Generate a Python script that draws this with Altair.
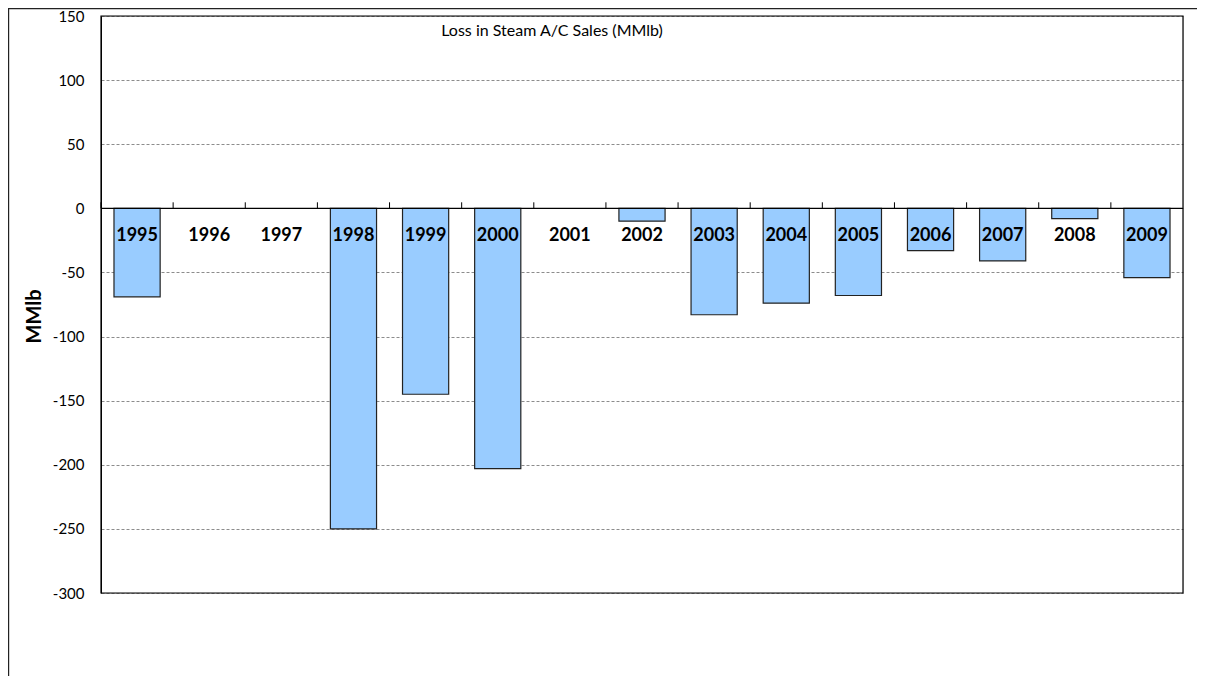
import altair as alt
import pandas as pd

years = ["1995", "1996", "1997", "1998", "1999", "2000", "2001", "2002",
         "2003", "2004", "2005", "2006", "2007", "2008", "2009"]
losses = [-69, None, None, -250, -145, -203, None, -10, -83, -74, -68, -33, -41, -8, -54]
y_ticks = [150, 100, 50, 0, -50, -100, -150, -200, -250, -300]
chart_title = "Loss in Steam A/C Sales (MMlb)"
y_title = "MMlb"

W, H = 1082, 577
PL, PT, PR, PB = 93, 8, 14, 83
FONT = "Lato"

df = pd.DataFrame({"year": years, "loss": losses})
one = pd.DataFrame({"k": [0]})

xscale = alt.Scale(domain=years, paddingInner=0.36, paddingOuter=0.18)
yscale = alt.Scale(domain=[-300, 150], nice=False, zero=False)

yaxis = alt.Axis(
    values=y_ticks, grid=True, gridDash=[3, 2], gridColor="#8c8c8c", gridWidth=1,
    domain=True, domainColor="black", ticks=False, tickSize=0,
    labelFont=FONT, labelFontSize=15, labelColor="black", labelPadding=17,
    labelExpr="'' + datum.value",
    title=y_title, titleFont=FONT, titleFontSize=20, titleFontWeight="bold",
    titleColor="black", titleX=-67, titleY=300, titleAngle=-90,
    titleBaseline="middle", titleAlign="center",
)

bars = alt.Chart(df).mark_bar(
    fill="#99CCFF", stroke="#222222", strokeWidth=1.2
).encode(
    x=alt.X("year:N", scale=xscale, axis=None),
    y=alt.Y("loss:Q", scale=yscale, axis=yaxis),
)

zero_line = alt.Chart(one).mark_rule(color="black", strokeWidth=1.2).encode(
    y=alt.datum(0, scale=yscale)
)

ticks = alt.Chart(df).mark_rule(color="black", strokeWidth=1).encode(
    x=alt.X("year:N", scale=alt.Scale(domain=years, paddingInner=0, paddingOuter=0),
            bandPosition=0, axis=None),
    y=alt.datum(0),
    y2=alt.datum(4.7),
)

labels = alt.Chart(df).mark_text(
    font=FONT, fontSize=18, fontWeight="bold", color="black",
    baseline="middle", align="center", dy=28
).encode(
    x=alt.X("year:N", scale=xscale, axis=None),
    y=alt.datum(0),
    text="year:N",
)

title_mark = alt.Chart(one).mark_text(
    font=FONT, fontSize=16, color="black", align="center", baseline="middle"
).encode(
    x=alt.value(451), y=alt.value(15), text=alt.value(chart_title)
)

plot_border = alt.Chart(one).mark_rect(
    fill=None, fillOpacity=0, stroke="black", strokeWidth=1.2
).encode(
    x=alt.value(0), x2=alt.value(W), y=alt.value(0), y2=alt.value(H)
)

outer_border = alt.Chart(one).mark_rect(
    fill=None, fillOpacity=0, stroke="#222222", strokeWidth=1.2
).encode(
    x=alt.value(-PL + 0.6), x2=alt.value(W + PR + 40),
    y=alt.value(-PT + 0.6), y2=alt.value(H + PB + 40)
)

chart = alt.layer(
    bars, zero_line, ticks, labels, title_mark, plot_border, outer_border
).resolve_scale(
    x="independent"
).properties(
    width=W, height=H,
    padding={"left": PL, "top": PT, "right": PR, "bottom": PB},
    autosize=alt.AutoSizeParams(type="none"),
).configure_view(stroke=None).configure(background="white")

chart.save("out.html", embed_options={"renderer": "svg", "actions": False})
